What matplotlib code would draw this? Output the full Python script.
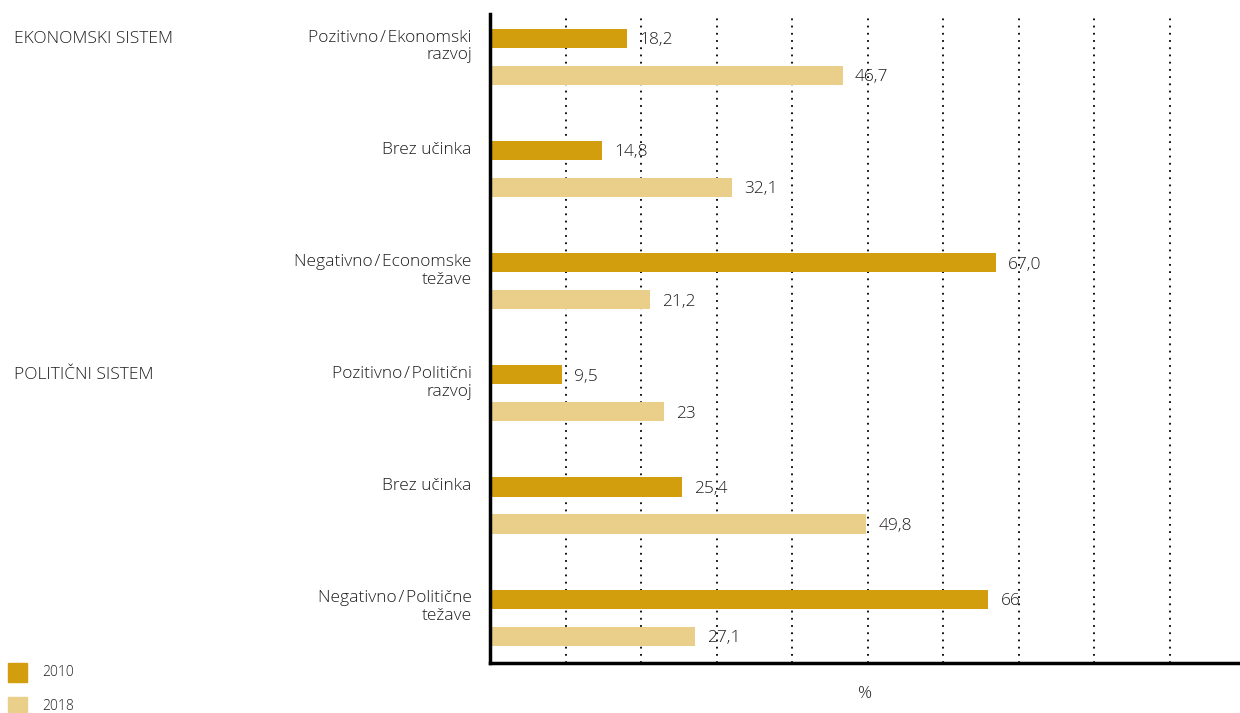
import matplotlib.pyplot as plt
from matplotlib.transforms import blended_transform_factory

plt.rcParams['font.family'] = ['Open Sans', 'DejaVu Sans']

categories = ['Pozitivno\u200a/\u200aEkonomski\nrazvoj', 'Brez učinka', 'Negativno\u200a/\u200aEconomske\ntežave',
              'Pozitivno\u200a/\u200aPolitični\nrazvoj', 'Brez učinka', 'Negativno\u200a/\u200aPolitične\ntežave']
sections = ['EKONOMSKI SISTEM', 'POLITIČNI SISTEM']
section_rows = [0, 3]
series_names = ['2010', '2018']
values_2010 = [18.2, 14.8, 67.0, 9.5, 25.4, 66]
values_2018 = [46.7, 32.1, 21.2, 23, 49.8, 27.1]
labels_2010 = ['18,2', '14,8', '67,0', '9,5', '25,4', '66']
labels_2018 = ['46,7', '32,1', '21,2', '23', '49,8', '27,1']
colors = ['#d39e0e', '#e9cf89']
text_color = '#1e1e1e'
fw = 300
fs = 12.5

fig = plt.figure(figsize=(12.4, 7.13), dpi=100)
ax = fig.add_axes([490 / 1240, 50 / 713, 750 / 1240, 649 / 713])

off = 0.33
h = 0.17
y10 = [i for i in range(len(categories))]
y18 = [i + off for i in range(len(categories))]
ax.barh(y10, values_2010, height=h, color=colors[0], zorder=2)
ax.barh(y18, values_2018, height=h, color=colors[1], zorder=2)

for y, v, s in zip(y10, values_2010, labels_2010):
    ax.text(v + 1.6, y + 0.015, s, va='center', ha='left', fontsize=fs, fontweight=fw,
            color=text_color, zorder=3)
for y, v, s in zip(y18, values_2018, labels_2018):
    ax.text(v + 1.6, y + 0.015, s, va='center', ha='left', fontsize=fs, fontweight=fw,
            color=text_color, zorder=3)

ax.set_xlim(0, 99.3)
ax.set_ylim(5 + off + 0.24, -0.22)
for x in range(10, 100, 10):
    ax.axvline(x, color='black', linestyle=(0, (1, 3)), linewidth=1.3, zorder=1)

ax.set_xticks([])
ax.set_yticks([])
for side in ['top', 'right']:
    ax.spines[side].set_visible(False)
for side in ['left', 'bottom']:
    ax.spines[side].set_linewidth(2.5)
    ax.spines[side].set_color('black')

for y, c in zip(y10, categories):
    ax.text(-2.4, y - 0.08, c, ha='right', va='top', fontsize=fs, fontweight=fw, color=text_color,
            linespacing=1.15, clip_on=False)

sec_tr = blended_transform_factory(fig.transFigure, ax.transData)
for r, s in zip(section_rows, sections):
    ax.text(14 / 1240, r, s, transform=sec_tr, ha='left', va='center', fontsize=fs,
            fontweight=fw, color=text_color)

ax.text(0.5, -0.035, '%', transform=ax.transAxes, ha='center', va='top', fontsize=fs,
        fontweight=fw, color=text_color)

# legend
for i, (name, col) in enumerate(zip(series_names, colors)):
    yy = 1 - (672 + i * 34) / 713
    fig.patches.append(plt.Rectangle((8 / 1240, yy - 9.5 / 713), 19 / 1240, 19 / 713,
                                     transform=fig.transFigure, color=col))
    fig.text(42 / 1240, yy, name, ha='left', va='center', fontsize=10, fontweight=fw,
             color=text_color)

fig.savefig('out.png', dpi=100)
